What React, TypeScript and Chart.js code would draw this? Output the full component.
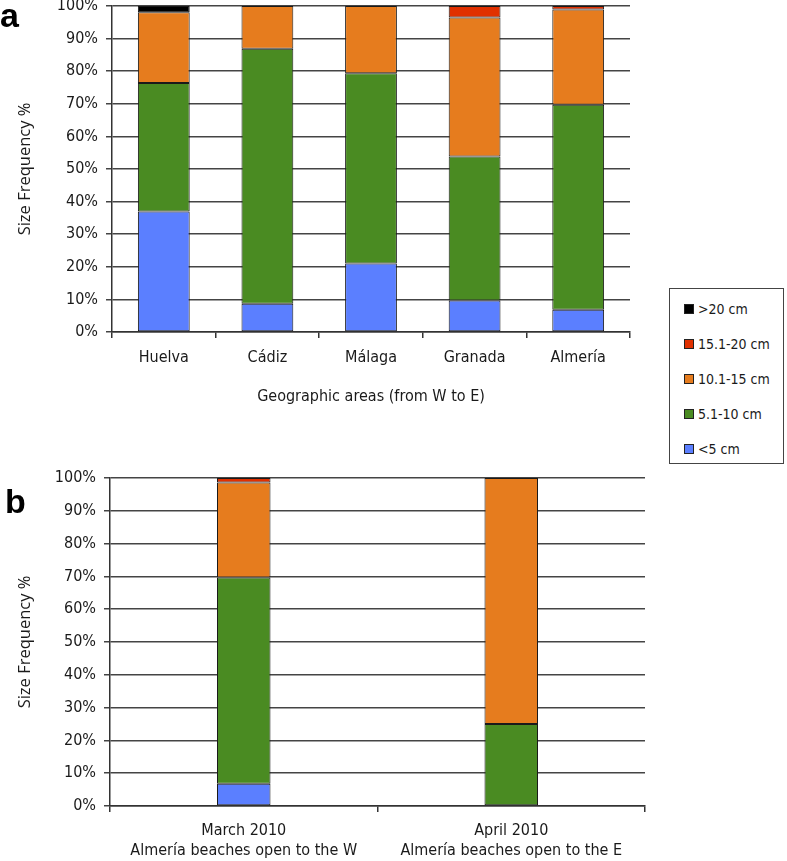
import React, { useEffect, useRef } from "react";
import { Chart, registerables } from "chart.js";

Chart.register(...registerables);

// ---------- data ----------
const SERIES_LABELS = ["<5 cm", "5.1-10 cm", "10.1-15 cm", "15.1-20 cm", ">20 cm"];
const SERIES_COLORS = ["#5B7FFF", "#4A8B22", "#E67C1E", "#E03000", "#000000"];

const AREAS = ["Huelva", "Cádiz", "Málaga", "Granada", "Almería"];
const A_LT5 = [37.0, 8.7, 21.0, 9.7, 6.8];
const A_5_10 = [39.4, 78.2, 58.4, 44.1, 62.9];
const A_10_15 = [21.7, 13.1, 20.6, 42.7, 29.2];
const A_15_20 = [0, 0, 0, 3.5, 1.1];
const A_GT20 = [1.9, 0, 0, 0, 0];

const PERIODS = [
  ["March 2010", "Almería beaches open to the W"],
  ["April 2010", "Almería beaches open to the E"],
];
const B_LT5 = [6.8, 0];
const B_5_10 = [62.9, 25.0];
const B_10_15 = [28.9, 75.0];
const B_15_20 = [1.4, 0];
const B_GT20 = [0, 0];

const Y_TICK_STEP = 10;
const Y_TITLE = "Size Frequency %";
const X_TITLE_A = "Geographic areas (from W to E)";

const FONT = "'DejaVu Sans Condensed', 'DejaVu Sans', sans-serif";
const TITLE_FONT = "'Open Sans', sans-serif";

type PanelProps = {
  labels: any[];
  series: number[][];
  top: number;
  height: number;
  padTop: number;
  padRight: number;
  yWidth: number;
  xHeight: number;
  barPct: number;
  xTitle?: string;
  xTickPadding: number;
  xLineHeight: number;
};

function Panel(p: PanelProps) {
  const ref = useRef<HTMLCanvasElement | null>(null);
  useEffect(() => {
    if (!ref.current) return;
    const datasets = p.series.map((vals, i) => ({
      label: SERIES_LABELS[i],
      data: vals.map((v) => (v > 0 ? v : null)),
      backgroundColor: SERIES_COLORS[i],
      borderColor: "#1a1a1a",
      borderWidth: 1,
      borderSkipped: false as any,
      barPercentage: p.barPct,
      categoryPercentage: 1.0,
    }));
    const chart = new Chart(ref.current, {
      type: "bar",
      data: { labels: p.labels, datasets },
      options: {
        animation: false,
        responsive: false,
        maintainAspectRatio: false,
        layout: { padding: { left: 0, top: p.padTop, right: p.padRight, bottom: 0 } },
        plugins: { legend: { display: false }, tooltip: { enabled: false } },
        scales: {
          x: {
            stacked: true,
            grid: {
              offset: true,
              drawOnChartArea: false,
              drawTicks: true,
              tickLength: 6,
              color: "#333333",
              lineWidth: 1.5,
            },
            border: { display: true, color: "#333333", width: 1.5 },
            ticks: {
              font: { family: FONT, size: 16, lineHeight: p.xLineHeight },
              color: "#1a1a1a",
              padding: p.xTickPadding,
              maxRotation: 0,
              autoSkip: false,
            },
            title: {
              display: !!p.xTitle,
              text: p.xTitle || "",
              font: { family: FONT, size: 16 },
              color: "#1a1a1a",
              padding: { top: 0, bottom: 15 },
            },
            afterFit: (s: any) => {
              s.height = p.xHeight;
            },
          },
          y: {
            stacked: true,
            min: 0,
            max: 100,
            ticks: {
              stepSize: Y_TICK_STEP,
              callback: (v: any) => v + "%",
              padding: 8,
              font: { family: FONT, size: 16 },
              color: "#1a1a1a",
            },
            grid: { color: "#444444", lineWidth: 1.5, tickLength: 6, drawTicks: true },
            border: { display: true, color: "#333333", width: 1.5 },
            title: {
              display: true,
              text: Y_TITLE,
              font: { family: TITLE_FONT, size: 16.5 },
              color: "#1a1a1a",
              padding: { top: 15, bottom: 0 },
            },
            afterFit: (s: any) => {
              s.width = p.yWidth;
            },
          },
        },
      } as any,
    });
    return () => chart.destroy();
  }, []);
  return (
    <canvas
      ref={ref}
      width={787}
      height={p.height}
      style={{ position: "absolute", left: 0, top: p.top, width: 787, height: p.height, display: "block" }}
    />
  );
}

function Legend() {
  const order = [4, 3, 2, 1, 0];
  return (
    <div
      style={{
        position: "absolute",
        left: 669,
        top: 288,
        width: 113,
        height: 174,
        border: "1px solid #444",
        background: "#fff",
        fontFamily: FONT,
        fontSize: 14,
        color: "#1a1a1a",
      }}
    >
      {order.map((si, k) => (
        <div
          key={si}
          style={{ position: "absolute", left: 14, top: 20 + k * 35 - 10, height: 20, display: "flex", alignItems: "center", whiteSpace: "nowrap" }}
        >
          <span
            style={{
              display: "inline-block",
              width: 8,
              height: 8,
              border: "1px solid #222",
              background: SERIES_COLORS[si],
              marginRight: 4,
            }}
          />
          <span>{SERIES_LABELS[si]}</span>
        </div>
      ))}
    </div>
  );
}

export default function App() {
  return (
    <div style={{ position: "absolute", left: 0, top: 0, width: 787, height: 861, background: "#fff", overflow: "hidden" }}>
      <Panel
        labels={AREAS}
        series={[A_LT5, A_5_10, A_10_15, A_15_20, A_GT20]}
        top={-19}
        height={440}
        padTop={25}
        padRight={157}
        yWidth={112}
        xHeight={89}
        barPct={0.5}
        xTitle={X_TITLE_A}
        xTickPadding={10}
        xLineHeight={1.2}
      />
      <Panel
        labels={PERIODS}
        series={[B_LT5, B_5_10, B_10_15, B_15_20, B_GT20]}
        top={440}
        height={421}
        padTop={38}
        padRight={142}
        yWidth={110}
        xHeight={55}
        barPct={0.2}
        xTickPadding={9}
        xLineHeight={1.25}
      />
      <Legend />
      <div style={{ position: "absolute", left: 0, top: -2, font: "bold 34px 'Liberation Sans', Arial, sans-serif", lineHeight: "34px", color: "#000" }}>a</div>
      <div style={{ position: "absolute", left: 5, top: 484, font: "bold 34px 'Liberation Sans', Arial, sans-serif", lineHeight: "34px", color: "#000" }}>b</div>
    </div>
  );
}
